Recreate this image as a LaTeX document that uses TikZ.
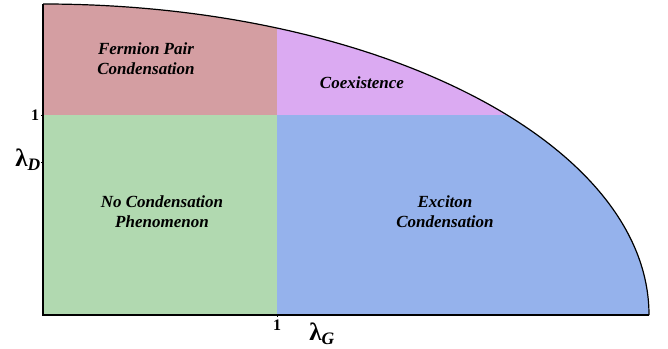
\documentclass[tikz,border=0pt]{standalone}
\usepackage{fontspec}
\setmainfont{Liberation Serif}[BoldItalicFont={Liberation Serif Bold Italic}]
\definecolor{pairred}{RGB}{212,158,162}
\definecolor{coexpurple}{RGB}{219,170,242}
\definecolor{nonegreen}{RGB}{177,217,176}
\definecolor{excblue}{RGB}{149,178,236}
\tikzset{
    phase/.style={font=\fontsize{17}{20}\selectfont\bfseries\itshape,align=center},
    ticklab/.style={font=\fontsize{16}{16}\selectfont\bfseries},
    axislab/.style={font=\fontsize{25}{25}\selectfont\bfseries}
}
\begin{document}
\begin{tikzpicture}[x=1pt,y=-1pt]
    \useasboundingbox (0,0) rectangle (668,348);
    \coordinate (O) at (43,315);
    \coordinate (T) at (43,4);
    \coordinate (R) at (649,315);
    \coordinate (M) at (277,115);
    % regions, cut by the quarter ellipse
    \begin{scope}
        \clip (O) -- (R) arc[start angle=0,end angle=-90,x radius=606,y radius=311] -- cycle;
        \fill[pairred] (T) rectangle (M);
        \fill[coexpurple] (277,4) rectangle (649,115);
        \fill[nonegreen] (43,115) rectangle (277,315);
        \fill[excblue] (M) rectangle (R);
    \end{scope}
    \draw[line width=1.2pt] (R) arc[start angle=0,end angle=-90,x radius=606,y radius=311];
    \draw[line width=1.5pt] (T) -- (O) -- (R);
    \draw[line width=0.6pt] (43,115) -- ++(-2,0) (43,162) -- ++(-2,0) (277,315) -- ++(0,2);
    % labels
    \node[phase] (pair) at (146,59) {Fermion Pair\\Condensation};
    \node[phase] (coex) at (362,83) {Coexistence};
    \node[phase] (none) at (162,212) {No Condensation\\Phenomenon};
    \node[phase] (exc) at (445,212) {Exciton\\Condensation};
    \node[ticklab] (yone) at (35,115) {1};
    \node[ticklab] (xone) at (277,325) {1};
    \node[axislab] (lamD) at (28,160) {λ\textsubscript{\itshape D}};
    \node[axislab] (lamG) at (322,334) {λ\textsubscript{\itshape G}};
\end{tikzpicture}
\end{document}
